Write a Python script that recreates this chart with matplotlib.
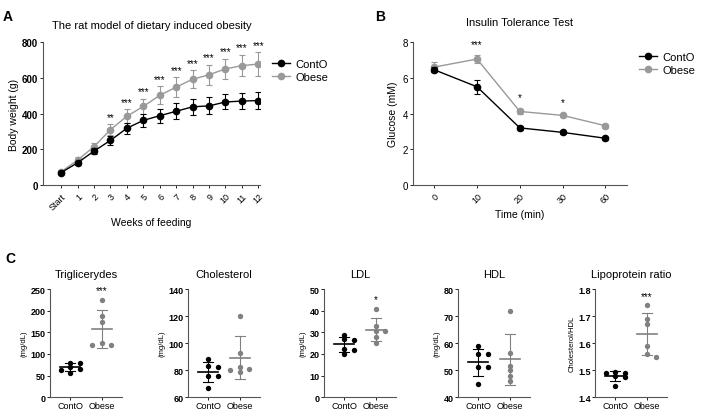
import numpy as np
import matplotlib
matplotlib.use("Agg")
import matplotlib.pyplot as plt
from matplotlib.lines import Line2D

plt.rcParams['font.family'] = ['Liberation Sans', 'DejaVu Sans']

# Panel A: body weight over weeks
weeks = ["Start", "1", "2", "3", "4", "5", "6", "7", "8", "9", "10", "11", "12"]
bw_cont = [70, 125, 190, 250, 318, 362, 388, 413, 438, 443, 465, 470, 473]
bw_cont_sd = [10, 12, 15, 25, 32, 35, 40, 45, 45, 48, 42, 45, 50]
bw_obese = [75, 140, 215, 310, 385, 440, 502, 548, 592, 617, 650, 668, 677]
bw_obese_sd = [10, 15, 20, 30, 38, 42, 50, 55, 50, 55, 55, 60, 65]
bw_stars = ["", "", "", "**", "***", "***", "***", "***", "***", "***", "***", "***", "***"]

# Panel B: insulin tolerance test
itt_time = ["0", "10", "20", "30", "60"]
itt_cont = [6.45, 5.5, 3.2, 2.95, 2.62]
itt_cont_sd = [0.15, 0.38, 0.12, 0.08, 0.08]
itt_obese = [6.6, 7.05, 4.12, 3.9, 3.32]
itt_obese_sd = [0.3, 0.22, 0.15, 0.1, 0.12]
itt_stars = ["", "***", "*", "*", ""]

# Panel C: lipid profile (per animal)
groups = ["ContO", "Obese"]
trig_cont = [57, 70, 80, 79, 62, 66]
trig_obese = [226, 187, 173, 120, 125, 120]
chol_cont = [88, 83, 82, 76, 76, 67]
chol_obese = [120, 93, 82, 79, 80, 81]
ldl_cont = [29, 27, 26.5, 22.5, 22, 20]
ldl_obese = [41, 33, 30.5, 30.5, 28, 25]
hdl_cont = [59, 56, 56, 51, 51, 45]
hdl_obese = [72, 56.5, 51.5, 50, 48, 46]
ratio_cont = [1.49, 1.49, 1.495, 1.475, 1.48, 1.44]
ratio_obese = [1.74, 1.69, 1.67, 1.59, 1.55, 1.56]

BLACK = "#000000"
GREY = "#999999"
GREY_C = "#808080"


def style_axes(ax):
    for s in ["top", "right"]:
        ax.spines[s].set_visible(False)
    for s in ["left", "bottom"]:
        ax.spines[s].set_color("#555555")
        ax.spines[s].set_linewidth(0.8)


def swarm(vals, step, xscale):
    # simple beeswarm: spread points that sit close in y
    order = np.argsort(vals)[::-1]
    placed = []
    offs = np.zeros(len(vals))
    for i in order:
        for cand in [0, 1, -1, 2, -2]:
            ok = True
            for j, o in placed:
                if abs(vals[j] - vals[i]) < step and o == cand:
                    ok = False
                    break
            if ok:
                offs[i] = cand
                placed.append((i, cand))
                break
    return offs * xscale


def dot_panel(ax, cont, obese, title, ylim, yticks, ylabel, star):
    style_axes(ax)
    span = ylim[1] - ylim[0]
    for k, (vals, col) in enumerate([(cont, BLACK), (obese, GREY_C)]):
        vals = np.array(vals, dtype=float)
        offs = swarm(vals, span * 0.035, 0.3)
        ax.scatter(k + offs, vals, s=15, color=col, zorder=3, linewidths=0)
        m, sd = vals.mean(), vals.std(ddof=1)
        ax.plot([k - 0.32, k + 0.32], [m, m], color=col, lw=1.2, zorder=2)
        ax.plot([k, k], [m - sd, m + sd], color=col, lw=0.8, zorder=2)
        for y in (m - sd, m + sd):
            ax.plot([k - 0.16, k + 0.16], [y, y], color=col, lw=0.8, zorder=2)
        if k == 1 and star:
            ax.text(k, vals.max() + span * 0.04, star, ha="center",
                    va="bottom", fontsize=7)
    ax.set_xlim(-0.65, 1.65)
    ax.set_ylim(*ylim)
    ax.set_yticks(yticks)
    ax.set_xticks([0, 1])
    ax.set_xticklabels(groups, fontsize=6.5)
    ax.tick_params(axis="y", labelsize=6.5, length=2, width=0.6, pad=1)
    ax.tick_params(axis="x", length=2, width=0.6, pad=1)
    for t in ax.get_yticklabels():
        t.set_fontweight("bold")
    ax.set_ylabel(ylabel, fontsize=5.5, labelpad=2)
    ax.set_title(title, fontsize=8, pad=9)


def legend_handles():
    return [Line2D([], [], color=BLACK, marker="o", ms=4.5, lw=1),
            Line2D([], [], color=GREY, marker="o", ms=4.5, lw=1)]


fig = plt.figure(figsize=(7.02, 4.10), dpi=100)

# ---- Panel A ----
axA = fig.add_axes([0.0613, 0.546, 0.309, 0.349])
style_axes(axA)
x = np.arange(len(weeks))
axA.errorbar(x, bw_obese, yerr=bw_obese_sd, color=GREY, marker="o", ms=4.5,
             lw=1, elinewidth=0.8, capsize=2.5, capthick=0.8, zorder=2)
axA.errorbar(x, bw_cont, yerr=bw_cont_sd, color=BLACK, marker="o", ms=4.5,
             lw=1, elinewidth=0.8, capsize=2.5, capthick=0.8, zorder=3)
for i, s in enumerate(bw_stars):
    if s:
        axA.text(i, bw_obese[i] + bw_obese_sd[i] + 15, s, ha="center",
                 va="bottom", fontsize=7)
axA.set_xlim(-1.1, 12.1)
axA.set_ylim(0, 800)
axA.set_yticks([0, 200, 400, 600, 800])
axA.set_xticks(x)
axA.set_xticklabels(weeks, rotation=45, fontsize=6.5, ha="right",
                    rotation_mode="anchor")
axA.tick_params(axis="y", labelsize=7, length=2.5, width=0.6, pad=1)
axA.tick_params(axis="x", length=2.5, width=0.6, pad=2)
for t in axA.get_yticklabels():
    t.set_fontweight("bold")
axA.set_ylabel("Body weight (g)", fontsize=7.5, labelpad=2)
axA.set_xlabel("Weeks of feeding", fontsize=7.5, labelpad=4)
axA.set_title("The rat model of dietary induced obesity", fontsize=8, pad=10)
axA.legend(legend_handles(), ["ContO", "Obese"], loc="upper left",
           bbox_to_anchor=(1.03, 0.92), frameon=False, fontsize=8,
           handlelength=1.6, borderpad=0, labelspacing=0.3, handletextpad=0.5)

# ---- Panel B ----
axB = fig.add_axes([0.588, 0.546, 0.305, 0.349])
style_axes(axB)
xt = np.arange(len(itt_time))
axB.errorbar(xt, itt_obese, yerr=itt_obese_sd, color=GREY, marker="o", ms=4.5,
             lw=1, elinewidth=0.8, capsize=2.5, capthick=0.8, zorder=2)
axB.errorbar(xt, itt_cont, yerr=itt_cont_sd, color=BLACK, marker="o", ms=4.5,
             lw=1, elinewidth=0.8, capsize=2.5, capthick=0.8, zorder=3)
for i, s in enumerate(itt_stars):
    if s:
        axB.text(i, itt_obese[i] + itt_obese_sd[i] + 0.35, s, ha="center",
                 va="bottom", fontsize=7)
axB.set_xlim(-0.5, 4.5)
axB.set_ylim(0, 8)
axB.set_yticks([0, 2, 4, 6, 8])
axB.set_xticks(xt)
axB.set_xticklabels(itt_time, rotation=45, fontsize=6.5, ha="right",
                    rotation_mode="anchor")
axB.tick_params(axis="y", labelsize=7, length=2.5, width=0.6, pad=1)
axB.tick_params(axis="x", length=2.5, width=0.6, pad=2)
axB.set_ylabel("Glucose (mM)", fontsize=7.5, labelpad=3)
axB.set_xlabel("Time (min)", fontsize=7.5, labelpad=3)
axB.set_title("Insulin Tolerance Test", fontsize=8, pad=12)
axB.legend(legend_handles(), ["ContO", "Obese"], loc="upper left",
           bbox_to_anchor=(1.03, 0.97), frameon=False, fontsize=8,
           handlelength=1.6, borderpad=0, labelspacing=0.3, handletextpad=0.5)

# ---- Panel C ----
lefts = [50, 188, 324, 458, 595]
specs = [
    (trig_cont, trig_obese, "Triglicerydes", (0, 250), [0, 50, 100, 150, 200, 250], "(mg/dL)", "***"),
    (chol_cont, chol_obese, "Cholesterol", (60, 140), [60, 80, 100, 120, 140], "(mg/dL)", ""),
    (ldl_cont, ldl_obese, "LDL", (0, 50), [0, 10, 20, 30, 40, 50], "(mg/dL)", "*"),
    (hdl_cont, hdl_obese, "HDL", (40, 80), [40, 50, 60, 70, 80], "(mg/dL)", ""),
    (ratio_cont, ratio_obese, "Lipoprotein ratio", (1.4, 1.8), [1.4, 1.5, 1.6, 1.7, 1.8], "Cholesterol/HDL", "***"),
]
for lx, sp in zip(lefts, specs):
    ax = fig.add_axes([lx / 702, 0.029, 72 / 702, 0.263])
    dot_panel(ax, *sp)

fig.text(0.004, 0.975, "A", fontsize=10, fontweight="bold", va="top")
fig.text(0.535, 0.975, "B", fontsize=10, fontweight="bold", va="top")
fig.text(0.007, 0.385, "C", fontsize=10, fontweight="bold", va="top")

fig.savefig("out.png", dpi=100)
